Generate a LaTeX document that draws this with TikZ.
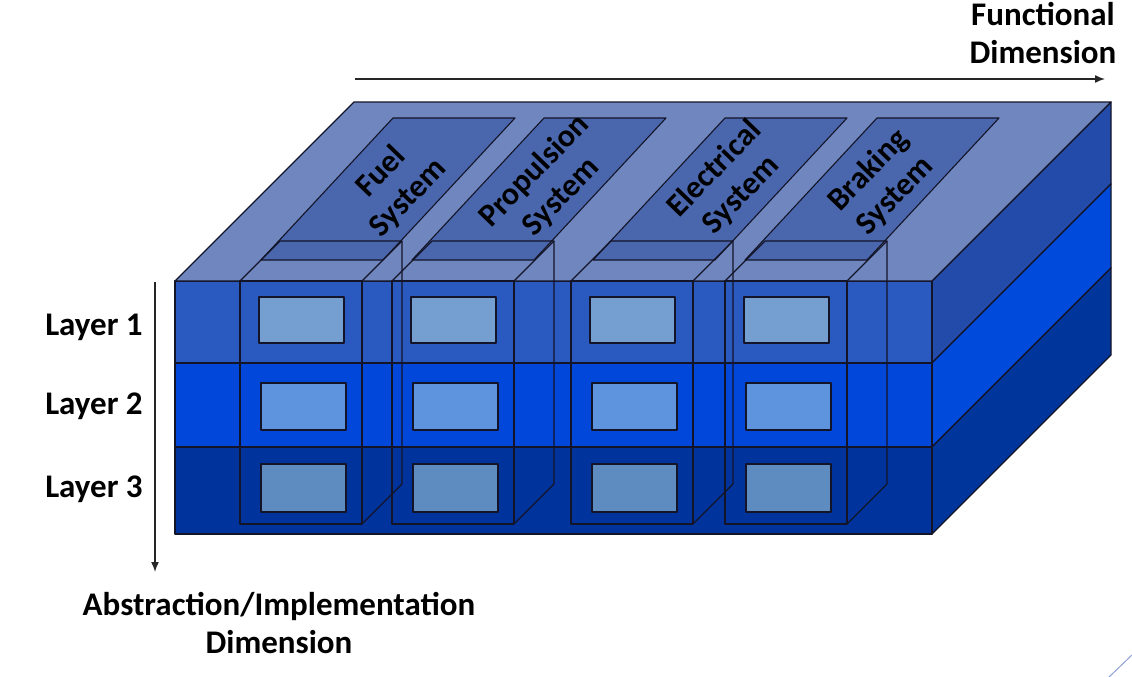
\documentclass[tikz,border=0pt]{standalone}
\usepackage{fontspec}
\setmainfont{Carlito}
\usetikzlibrary{arrows.meta}
\definecolor{topface}{HTML}{6F86BE}
\definecolor{labelface}{HTML}{4A67AE}
\definecolor{frontA}{HTML}{2A5ABF}
\definecolor{frontB}{HTML}{0047DA}
\definecolor{frontC}{HTML}{00349C}
\definecolor{rightA}{HTML}{234BA9}
\definecolor{rightB}{HTML}{004ADB}
\definecolor{rightC}{HTML}{00359C}
\definecolor{innerA}{HTML}{759FD0}
\definecolor{innerB}{HTML}{5E94DD}
\definecolor{innerC}{HTML}{5E8BC0}
\definecolor{edgecol}{HTML}{141428}
\definecolor{deco}{HTML}{8FA0DA}
\begin{document}
\begin{tikzpicture}[x=1pt,y=-1pt,line join=round,
  edge/.style={draw=edgecol,line width=1.3pt},
  thin edge/.style={draw=edgecol,line width=1.1pt},
  lbl/.style={font=\fontsize{33}{38}\selectfont\bfseries,text=black,align=center,inner sep=0pt},
  syslbl/.style={font=\fontsize{32}{37}\selectfont\bfseries,text=black,align=center,inner sep=0pt,rotate=46},
  axis/.style={line width=1.5pt,draw=black!85,-{Latex[length=10pt,width=8pt]}}]
\useasboundingbox (0,0) rectangle (1132,677);

% right face
\path[edge,fill=rightA] (932,281) -- (1111,102) -- (1111,184) -- (932,363) -- cycle;
\path[edge,fill=rightB] (932,363) -- (1111,184) -- (1111,268) -- (932,447) -- cycle;
\path[edge,fill=rightC] (932,447) -- (1111,268) -- (1111,355) -- (932,534) -- cycle;

% front layers
\path[edge,fill=frontA] (175,281) rectangle (932,363);
\path[edge,fill=frontB] (175,363) rectangle (932,447);
\path[edge,fill=frontC] (175,447) rectangle (932,534);

% top face
\path[edge,fill=topface] (175,281) -- (354,102) -- (1111,102) -- (932,281) -- cycle;

% label parallelograms
\foreach \t in {393,544,725,877}{
  \path[thin edge,fill=labelface] (\t,118) -- (\t+122,118) -- (\t-10,260) -- (\t-132,260) -- cycle;
}

% column boxes and inner rectangles
\foreach \l in {240,392,571,725}{
  \path[thin edge,fill=innerA] (\l+19,297) rectangle (\l+104,343);
  \path[thin edge,fill=innerB] (\l+21,383) rectangle (\l+106,430);
  \path[thin edge,fill=innerC] (\l+21,464) rectangle (\l+106,512);
  \draw[thin edge] (\l,281) rectangle (\l+122,524);
  \draw[thin edge] (\l,281) -- (\l+40,241) -- (\l+162,241) -- (\l+162,484) -- (\l+122,524);
  \draw[thin edge] (\l+122,281) -- (\l+162,241);
}

% system labels
\node[syslbl] (fuel) at (395,185) {Fuel\\System};
\node[syslbl] (prop) at (548,184) {Propulsion\\System};
\node[syslbl] (elec) at (728,182) {Electrical\\System};
\node[syslbl] (brak) at (882,183) {Braking\\System};

% layer labels
\node[lbl] (l1) at (94,327) {Layer 1};
\node[lbl] (l2) at (94,406) {Layer 2};
\node[lbl] (l3) at (94,489) {Layer 3};

% axes
\coordinate (fstart) at (355,79);
\coordinate (fend) at (1105,79);
\draw[axis] (fstart) -- (fend);
\node[lbl] (func) at (1043,33) {Functional\\Dimension};

\coordinate (vstart) at (155,282);
\coordinate (vend) at (155,572);
\draw[axis] (vstart) -- (vend);
\node[lbl] (abst) at (279,623) {Abstraction/Implementation\\Dimension};

% corner decoration
\coordinate (da) at (1108,678);
\coordinate (db) at (1133,654);
\draw[deco,line width=1pt] (da) -- (db);
\end{tikzpicture}
\end{document}
